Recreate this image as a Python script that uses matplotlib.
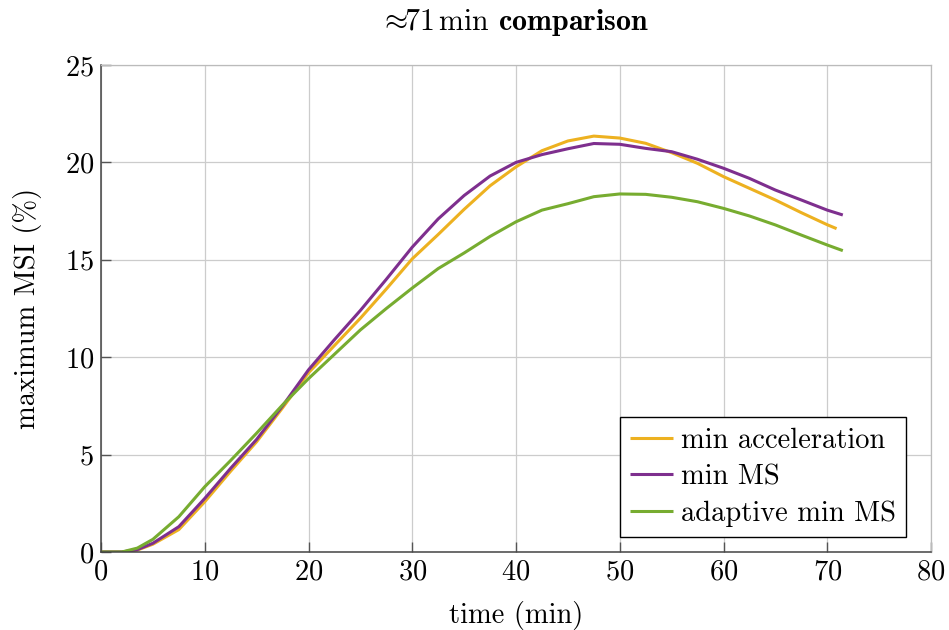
import matplotlib
matplotlib.use("Agg")
import matplotlib.pyplot as plt

plt.rcParams['font.family'] = ['cmr10', 'DejaVu Serif']
plt.rcParams['mathtext.fontset'] = 'cm'
plt.rcParams['axes.unicode_minus'] = False
plt.rcParams['axes.formatter.use_mathtext'] = True

t_acc = [0, 2, 3.5, 5, 7.5, 10, 12.5, 15, 17.5, 20, 22.5, 25, 27.5, 30, 32.5, 35, 37.5,
         40, 42.5, 45, 47.5, 50, 52.5, 55, 57.5, 60, 62.5, 65, 67.5, 70, 70.9]
y_acc = [0, 0, 0.1, 0.4, 1.15, 2.58, 4.15, 5.66, 7.4, 9.2, 10.6, 12.0, 13.5, 15.05, 16.3,
         17.59, 18.8, 19.77, 20.6, 21.1, 21.35, 21.25, 20.98, 20.5, 19.95, 19.27, 18.67,
         18.07, 17.42, 16.8, 16.6]

t_ms = [0, 2, 3.5, 5, 7.5, 10, 12.5, 15, 17.5, 20, 22.5, 25, 27.5, 30, 32.5, 35, 37.5,
        40, 42.5, 45, 47.5, 50, 52.5, 55, 57.5, 60, 62.5, 65, 67.5, 70, 71.5]
y_ms = [0, 0, 0.12, 0.45, 1.3, 2.75, 4.3, 5.78, 7.5, 9.35, 10.9, 12.4, 14.0, 15.65, 17.1,
        18.3, 19.3, 20.0, 20.4, 20.7, 20.97, 20.93, 20.72, 20.55, 20.16, 19.7, 19.18,
        18.58, 18.07, 17.55, 17.3]

t_ad = [0, 2, 3.5, 5, 7.5, 10, 12.5, 15, 17.5, 20, 22.5, 25, 27.5, 30, 32.5, 35, 37.5,
        40, 42.5, 45, 47.5, 50, 52.5, 55, 57.5, 60, 62.5, 65, 67.5, 70, 71.5]
y_ad = [0, 0, 0.2, 0.65, 1.81, 3.35, 4.7, 6.1, 7.55, 8.9, 10.15, 11.4, 12.5, 13.55, 14.55,
        15.35, 16.2, 16.95, 17.55, 17.88, 18.24, 18.38, 18.36, 18.21, 17.98, 17.64, 17.25,
        16.79, 16.27, 15.76, 15.47]

labels = ['min acceleration', 'min MS', 'adaptive min MS']
colors = ['#EDB120', '#7E2F8E', '#77AC30']
xticks = [0, 10, 20, 30, 40, 50, 60, 70, 80]
yticks = [0, 5, 10, 15, 20, 25]

fig = plt.figure(figsize=(9.49, 6.30), dpi=100)
ax = fig.add_axes([101/949, 1 - 552/630, (931-101)/949, (552-65)/630])

for t, y, lab, c in zip([t_acc, t_ms, t_ad], [y_acc, y_ms, y_ad], labels, colors):
    ax.plot(t, y, color=c, lw=2.2, label=lab, solid_joinstyle='round', solid_capstyle='butt')

ax.set_xlim(0, 80)
ax.set_ylim(0, 25)
ax.set_xticks(xticks)
ax.set_yticks(yticks)
ax.tick_params(direction='in', length=7, width=1, labelsize=20.5, color='#555555',
               top=False, right=False, pad=5)
ax.grid(True, color='#cccccc', lw=0.9)
ax.set_axisbelow(True)
for s in ['left', 'bottom']:
    ax.spines[s].set_color('#444444')
    ax.spines[s].set_linewidth(1.1)
for s in ['top', 'right']:
    ax.spines[s].set_color('#bbbbbb')
    ax.spines[s].set_linewidth(0.9)

ax.set_xlabel('time (min)', fontsize=20.5, labelpad=11)
ax.set_ylabel('maximum MSI (%)', fontsize=20.5, labelpad=16)
ax.set_title(r'$\!\approx\!\!$71$\,$min $\mathbf{comparison}$', fontsize=21.5, pad=25)

leg = ax.legend(loc='lower right', fontsize=20.5, frameon=True, fancybox=False,
                edgecolor='black', framealpha=1, handlelength=1.5, handletextpad=0.3,
                borderpad=0.35, labelspacing=0.36, borderaxespad=0,
                bbox_to_anchor=(0.97, 0.031))
leg.get_frame().set_linewidth(1.0)

fig.savefig('out.png', dpi=100)
